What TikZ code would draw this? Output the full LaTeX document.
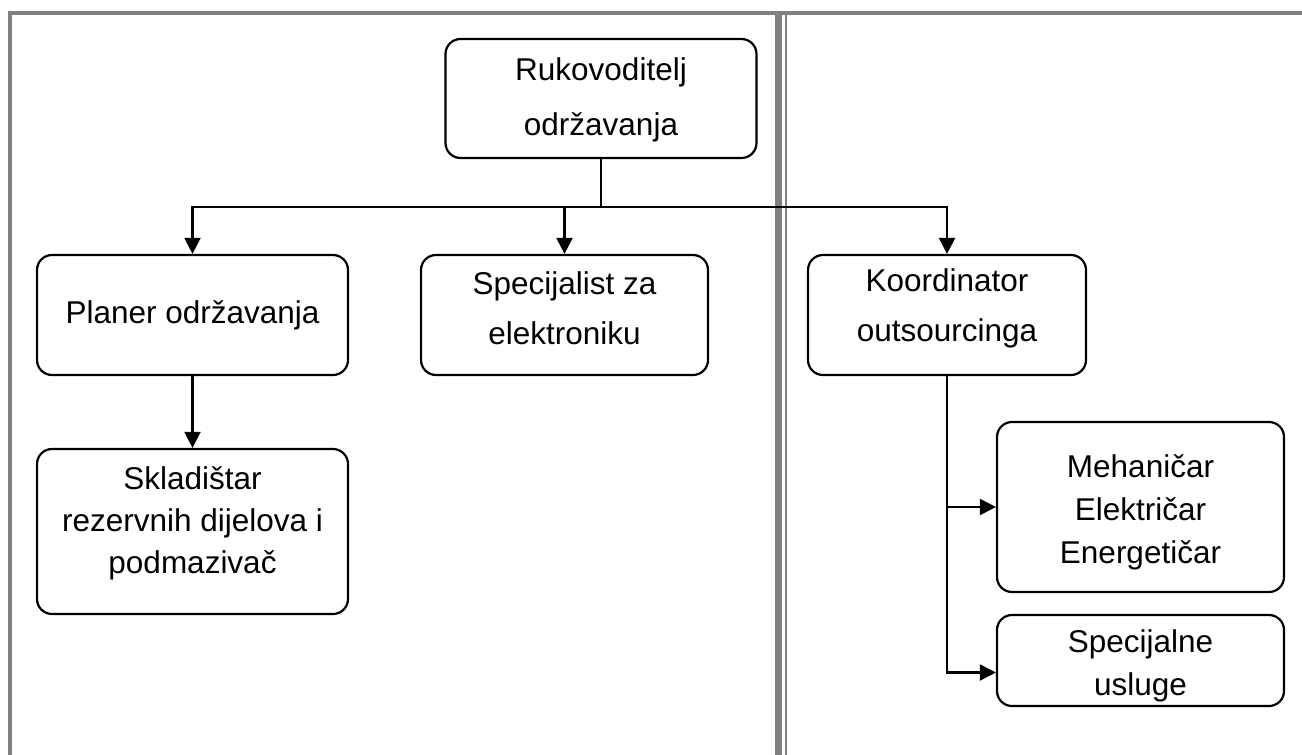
\documentclass[tikz,border=0pt]{standalone}
\usepackage{fontspec}
\setmainfont{Liberation Sans}
\usetikzlibrary{arrows.meta,calc}
\definecolor{bordergray}{HTML}{808080}
\tikzset{
  box/.style={draw=black, line width=2.2pt, rounded corners=15pt, inner sep=0pt},
  txt/.style={align=center, inner sep=0pt, font={\fontsize{31.5pt}{#1pt}\selectfont}},
  conn/.style={draw=black, line width=2.2pt},
  arr/.style={conn, -{Triangle[width=16pt,length=16pt]}},
  bar/.style={fill=bordergray, draw=none}
}
\begin{document}
\begin{tikzpicture}[x=1pt,y=-1pt]
\useasboundingbox (0,0) rectangle (1302,755);
% frame
\fill[bar] (8,11) rectangle (1302,15);
\fill[bar] (8,11) rectangle (12,755);
\fill[bar] (775,15) rectangle (782,755);
\fill[bar] (785,15) rectangle (787,755);
% boxes
\node[box, minimum width=311pt, minimum height=119pt] (ruk) at (601,98.5) {};
\node[box, minimum width=311pt, minimum height=120pt] (planer) at (192.5,315) {};
\node[box, minimum width=287pt, minimum height=120pt] (spec) at (564.5,315) {};
\node[box, minimum width=278pt, minimum height=120pt] (koord) at (947,315) {};
\node[box, minimum width=311pt, minimum height=165pt] (skl) at (192.5,531.5) {};
\node[box, minimum width=287pt, minimum height=170pt] (meh) at (1140.5,507) {};
\node[box, minimum width=287pt, minimum height=91pt] (specu) at (1140.5,660.5) {};
% texts
\node[txt=55] (ruk-t) at ([yshift=-1pt]ruk.center) {Rukovoditelj\\održavanja};
\node[txt=50] (planer-t) at (planer.center) {Planer održavanja};
\node[txt=50] (spec-t) at ([yshift=7pt]spec.center) {Specijalist za\\elektroniku};
\node[txt=50] (koord-t) at ([yshift=7pt]koord.center) {Koordinator\\outsourcinga};
\node[txt=42] (skl-t) at ([yshift=8pt]skl.center) {Skladištar\\rezervnih dijelova i\\podmazivač};
\node[txt=43] (meh-t) at ([yshift=-5pt]meh.center) {Mehaničar\\Električar\\Energetičar};
\node[txt=43] (specu-t) at ([yshift=-5pt]specu.center) {Specijalne\\usluge};
% connectors
\coordinate (bus) at (601,207);
\draw[conn] (ruk.south) -- (bus);
\draw[arr] (bus) -| (planer.north);
\draw[arr] (bus) -| (spec.north);
\draw[arr] (bus) -| (koord.north);
\draw[arr] (planer.south) -- (skl.north);
\draw[arr] (koord.south) |- ([yshift=-12pt]specu.west);
\draw[arr] (koord.south |- meh.west) -- (meh.west);
\end{tikzpicture}
\end{document}
